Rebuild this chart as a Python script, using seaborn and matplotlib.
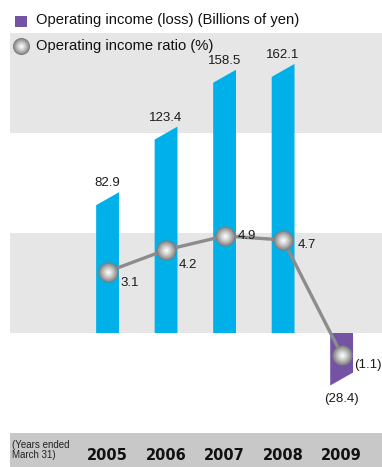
import numpy as np
import pandas as pd
import matplotlib
matplotlib.use("Agg")
import matplotlib.pyplot as plt
import seaborn as sns
from matplotlib.patches import Polygon, Rectangle

years = ["2005", "2006", "2007", "2008", "2009"]
income = [82.9, 123.4, 158.5, 162.1, -28.4]
ratio = [3.1, 4.2, 4.9, 4.7, -1.1]
income_labels = ["82.9", "123.4", "158.5", "162.1", "(28.4)"]
ratio_labels = ["3.1", "4.2", "4.9", "4.7", "(1.1)"]
legend_labels = ["Operating income (loss) (Billions of yen)", "Operating income ratio (%)"]

sns.set_theme(style="white")
plt.rcParams['font.family'] = ['Liberation Sans', 'DejaVu Sans']

W, H = 382, 467
fig = plt.figure(figsize=(W / 100, H / 100), dpi=100)
fig.patch.set_facecolor("white")

def fx(px):
    return px / W

def fy(py):
    return 1 - py / H

ax = fig.add_axes([fx(10), fy(433), fx(372), 400 / H])
ax.set_facecolor("white")

ppu = 1.62

df = pd.DataFrame({"year": years, "income": income})
colors = ["#00b0e8" if v >= 0 else "#7452a4" for v in income]
sns.barplot(data=df, x="year", y="income", hue="year", palette=colors,
            legend=False, width=0.39, ax=ax, zorder=2, saturation=1)

# replace bars with slanted-end polygons
slant = 4.0
bars = [p for p in ax.patches if isinstance(p, Rectangle)]
bars = sorted(bars, key=lambda p: p.get_x())
for p in bars:
    x0 = p.get_x()
    w = p.get_width()
    v = p.get_y() + p.get_height()
    c = p.get_facecolor()
    p.remove()
    poly = Polygon([(x0, 0), (x0 + w, 0), (x0 + w, v + slant), (x0, v - slant)],
                   closed=True, facecolor=c, edgecolor="none", zorder=2)
    ax.add_patch(poly)

ax.set_ylim(-100 / ppu, 300 / ppu)
ax.set_xlim(-1.667, 4.69)

band = 100 / ppu
ax.axhspan(0, band, color="#e6e6e6", zorder=0, lw=0)
ax.axhspan(2 * band, 3 * band, color="#e6e6e6", zorder=0, lw=0)

for i, (v, lab) in enumerate(zip(income, income_labels)):
    if v >= 0:
        ax.annotate(lab, (i, v), xytext=(0, 11), textcoords="offset points",
                    ha="center", va="center", fontsize=9.5, color="#1a1a1a", zorder=5)
    else:
        ax.annotate(lab, (i, v - slant), xytext=(0, -10), textcoords="offset points",
                    ha="center", va="center", fontsize=9.5, color="#1a1a1a", zorder=5)

for s in ax.spines.values():
    s.set_visible(False)
ax.set_yticks([])
ax.set_xlabel("")
ax.set_ylabel("")
ax.tick_params(axis="x", length=0, pad=11)
ax.set_xticks(range(len(years)))
ax.set_xticklabels(years, fontsize=10.5, fontweight="bold", family="DejaVu Sans", color="#111111")

# ratio line on twin axis
ax2 = ax.twinx()
rpu = 19.8
xs = np.arange(len(years))
sns.lineplot(x=xs, y=ratio, ax=ax2, color="#8c8c8c", lw=2.4, zorder=3)
sphere = [(14.5, "#7f7f7f"), (12.5, "#9a9a9a"), (10, "#b4b4b4"), (7.5, "#cdcdcd"),
          (5, "#e2e2e2"), (2.5, "#f6f6f6")]
for ms, col in sphere:
    ax2.plot(xs, ratio, ls="none", marker="o", ms=ms, mfc=col, mec="none", zorder=4)
ax2.set_ylim(-100 / rpu, 300 / rpu)
ax2.set_xlim(-1.667, 4.69)
for s in ax2.spines.values():
    s.set_visible(False)
ax2.set_yticks([])
ax2.set_ylabel("")

offs = [(16, -8), (16, -11), (16, 0), (17, -4), (19, -7)]
for i, (r, lab) in enumerate(zip(ratio, ratio_labels)):
    dx, dy = offs[i]
    ax2.annotate(lab, (i, r), xytext=(dx, dy), textcoords="offset points",
                 ha="center", va="center", fontsize=9.5, color="#1a1a1a", zorder=5)

# year band
fig.patches.append(Rectangle((fx(10), 0), fx(372), 34 / H, transform=fig.transFigure,
                             facecolor="#c8c8c8", edgecolor="none", zorder=-5))
fig.text(fx(12), fy(450), "(Years ended\nMarch 31)", fontsize=7, ha="left", va="center",
         color="#222222", linespacing=0.95)

# legend
fig.patches.append(Rectangle((fx(15), fy(27)), fx(12), 11 / H, transform=fig.transFigure,
                             facecolor="#7452a4", edgecolor="none", zorder=5))
fig.text(fx(36), fy(20), legend_labels[0], fontsize=10.6, ha="left", va="center", color="#111111")
for ms, col in sphere:
    fig.add_artist(plt.Line2D([fx(21)], [fy(46)], marker="o", ms=ms * 0.85, mfc=col, mec="none",
                              transform=fig.transFigure, zorder=6))
fig.text(fx(36), fy(46), legend_labels[1], fontsize=10.6, ha="left", va="center", color="#111111")

fig.savefig("out.png", dpi=100)
